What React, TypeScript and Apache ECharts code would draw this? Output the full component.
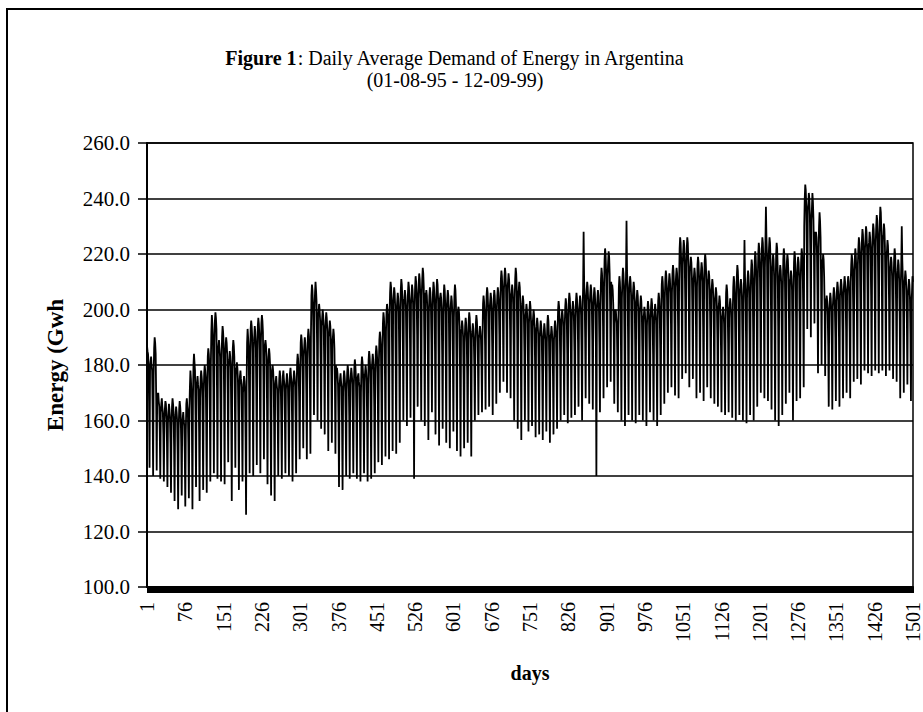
import React, { useEffect, useRef } from "react";
import * as echarts from "echarts";

// Daily average demand (GWh), days 1..1501
const demandPart1 = [
  187,185,184,181,167,143,179, 181,183,180,178,164,140,176, 186,190,188,184,168,142,170,
  168,170,167,165,156,139,163, 166,168,165,163,155,138,160, 164,167,166,162,153,136,159,
  163,166,164,161,152,134,158, 165,168,166,163,151,131,160, 162,165,163,160,148,128,157,
  164,167,165,162,152,133,159, 161,163,160,158,148,129,156, 166,168,165,163,152,132,164,
  172,178,175,170,156,128,168, 180,184,181,178,162,136,172, 174,176,173,171,156,131,168,
  175,178,176,173,159,135,170, 177,180,178,175,159,134,172, 183,186,184,180,164,138,180,
  192,198,195,190,172,141,188, 196,199,197,193,172,139,186, 187,189,186,183,166,138,182,
  190,194,192,188,168,137,184, 187,190,188,184,170,145,180, 182,185,183,179,161,131,178,
  186,189,187,183,168,143,179, 178,181,179,175,160,135,172, 176,178,175,173,160,138,170,
  173,176,174,170,154,126,172, 188,193,190,186,170,141,184, 193,196,194,190,171,140,186,
  190,194,192,188,172,144,185, 194,197,195,191,172,141,188, 195,198,196,192,175,146,186,
  186,189,187,183,166,137,180, 183,186,184,180,162,133,177, 177,180,178,174,158,131,172,
  174,176,173,171,160,140,169, 175,178,176,172,160,139,170, 176,178,175,173,161,141,171,
  174,177,175,172,160,140,170, 177,179,176,174,161,138,172, 175,178,176,173,161,141,171,
  181,184,182,178,167,146,177,
];
const demandPart2 = [
  188,191,189,185,173,150,183, 187,190,188,184,170,146,182, 190,193,191,187,173,148,190,
  205,209,207,202,188,162,200, 206,210,207,203,188,160,198, 199,202,200,196,182,157,194,
  197,200,198,194,180,155,192, 196,199,197,193,177,149,190, 193,196,194,190,176,152,188,
  190,193,191,186,173,148,180, 176,179,177,173,160,136,172, 175,177,174,172,158,135,170,
  175,178,176,173,161,140,171, 177,180,178,174,162,139,173, 176,179,177,174,162,141,172,
  179,182,180,176,163,139,175, 175,177,174,172,159,138,170, 180,183,181,177,164,141,176,
  177,180,178,174,161,138,173, 182,185,183,179,164,139,178, 181,184,182,178,165,141,177,
  184,187,185,181,168,145,180, 189,192,190,186,170,144,186, 195,199,197,192,176,147,192,
  199,202,200,196,177,146,198, 206,210,208,203,183,149,202, 205,208,206,201,181,148,200,
  203,206,204,199,182,152,200, 207,211,209,204,188,160,203, 204,207,205,200,185,158,200,
  206,210,208,203,188,161,202, 205,209,207,202,186,139,200, 208,212,210,205,191,165,204,
  209,213,211,206,189,160,205, 211,215,213,208,189,158,206, 204,207,205,200,183,153,199,
  205,208,206,201,188,163,200, 206,210,208,203,185,155,202, 207,211,209,204,184,151,203,
  203,206,204,199,184,157,198, 205,209,207,202,183,152,200, 204,207,205,200,181,150,199,
  202,205,203,198,183,156,197,
];
const demandPart3 = [
  205,209,207,202,182,149,198, 198,201,199,194,177,147,192, 193,196,194,190,175,150,188,
  194,197,195,191,177,152,189, 196,199,197,192,176,147,190, 192,195,193,189,179,160,188,
  195,198,196,192,182,162,190, 191,194,192,189,180,163,190, 202,205,203,198,187,164,198,
  205,208,206,201,189,165,200, 203,206,204,199,186,162,199, 204,207,205,200,189,166,200,
  205,208,206,202,191,170,203, 211,214,212,207,196,174,207, 212,215,213,208,195,170,208,
  210,213,211,206,193,168,205, 206,209,207,202,187,160,204, 211,215,213,208,189,157,206,
  207,210,208,203,184,153,200, 202,205,203,198,185,160,197, 199,202,200,195,181,156,195,
  200,203,201,196,183,158,194, 197,200,198,193,179,154,192, 194,197,195,191,178,155,190,
  193,196,194,190,177,153,189, 192,195,193,189,177,156,188, 195,198,196,191,177,152,190,
  191,194,192,188,176,155,189, 193,196,194,190,178,157,192, 200,203,201,196,184,160,196,
  197,200,198,194,183,162,194, 201,204,202,197,184,159,197, 203,206,204,199,186,161,198,
  200,203,201,196,185,162,197, 203,206,204,199,188,165,199, 202,205,203,198,185,160,200,
  208,228,210,205,190,168,203, 207,210,208,203,190,166,202, 206,209,207,202,189,164,201,
  205,208,206,201,188,140,200, 204,207,205,200,187,163,201, 211,215,213,208,194,168,208,
  218,222,220,214,200,172,212,
];
const demandPart4 = [
  217,221,219,213,200,174,210, 206,209,207,202,190,166,200, 198,200,197,195,183,163,194,
  208,212,210,205,189,160,204, 211,215,213,208,189,158,206, 212,232,214,209,190,162,206,
  209,212,210,205,189,160,203, 207,210,208,203,187,159,201, 204,207,205,200,187,162,199,
  202,205,203,198,185,160,197, 198,201,199,195,182,158,194, 200,203,201,197,185,163,196,
  201,204,202,197,184,160,196, 199,202,200,195,182,158,196, 203,206,204,199,186,162,200,
  209,212,210,205,191,166,204, 211,214,212,207,194,170,206, 210,213,211,206,195,172,206,
  213,216,214,209,195,169,208, 212,215,213,208,194,168,210, 222,226,224,218,203,175,216,
  221,225,223,217,203,177,215, 222,226,224,218,202,172,214, 216,219,217,212,199,175,210,
  212,215,213,208,194,168,208, 216,219,217,212,197,170,210, 214,217,215,210,194,167,209,
  217,220,218,213,198,172,210, 211,214,212,207,193,168,206, 208,211,209,204,191,166,203,
  205,208,206,201,189,165,200, 202,205,203,198,186,163,197, 198,201,199,195,183,162,196,
  206,209,207,202,188,163,200, 201,204,202,197,185,161,198, 208,212,210,205,189,160,203,
  212,216,214,209,192,162,206, 208,211,209,204,188,160,202, 210,225,212,207,190,159,204,
  211,214,212,207,191,162,205, 214,218,216,210,192,160,208, 217,221,219,213,196,165,210,
  220,224,222,216,200,170,214,
];
const demandPart5 = [
  222,226,224,218,200,168,215, 224,237,226,220,201,167,216, 222,226,224,218,198,164,214,
  216,220,218,212,193,160,208, 220,224,222,215,194,158,210, 213,216,214,209,192,162,206,
  218,222,220,214,197,166,211, 217,220,218,213,198,170,210, 211,214,212,207,190,160,206,
  217,221,219,213,197,167,211, 216,219,217,212,196,168,210, 218,222,220,215,200,172,230,
  240,245,243,237,222,193,236, 238,242,240,234,219,190,232, 236,242,239,233,221,195,228,
  224,228,226,220,205,177,222, 230,235,232,226,210,180,218, 216,220,218,212,200,176,204,
  202,205,203,198,187,165,200, 203,206,204,199,187,164,201, 205,208,206,201,190,167,203,
  207,210,208,203,190,165,205, 208,211,209,204,192,168,206, 209,212,210,205,193,170,207,
  209,212,210,205,192,168,210, 216,220,218,212,199,174,214, 218,222,220,214,201,175,216,
  222,226,224,218,202,173,220, 225,229,227,221,206,178,222, 226,230,228,222,206,177,223,
  224,228,226,220,205,176,222, 227,231,229,223,207,178,224, 230,234,232,225,208,177,226,
  232,237,235,228,210,178,226, 227,231,229,223,206,176,220, 221,225,223,217,204,178,214,
  216,219,217,212,199,175,210, 218,222,220,214,200,174,211, 214,218,216,210,196,168,208,
  216,230,218,212,197,170,209, 211,214,212,207,196,173,205, 208,211,209,204,191,167,203,
  206,212,210,
];

const xTickLabels = [
  "1","76","151","226","301","376","451","526","601","676","751",
  "826","901","976","1051","1126","1201","1276","1351","1426","1501",
];
const yMin = 100;
const yMax = 260;
const yStep = 20;

const titleBold = "Figure 1";
const titleRest = ": Daily Average Demand of Energy in Argentina";
const subtitle = "(01-08-95 - 12-09-99)";
const yName = "Energy (Gwh";
const xName = "days";

const FONT = "'Liberation Serif', 'Times New Roman', serif";

export default function App() {
  const ref = useRef<HTMLDivElement>(null);

  useEffect(() => {
    if (!ref.current) return;
    const chart = echarts.init(ref.current, undefined, { renderer: "svg" });
    const demand = [
      ...demandPart1, ...demandPart2, ...demandPart3, ...demandPart4, ...demandPart5,
    ];
    const days = demand.map((_, i) => String(i + 1));
    const tickSet = new Set(xTickLabels);

    chart.setOption({
      animation: false,
      backgroundColor: "#ffffff",
      textStyle: { fontFamily: FONT, color: "#000" },
      graphic: [
        {
          type: "rect",
          silent: true,
          z: -10,
          shape: { x: 7, y: 9, width: 1000, height: 1000 },
          style: { fill: "none", stroke: "#000", lineWidth: 2 },
        },
        {
          type: "text",
          x: 455,
          y: 58,
          style: {
            text: `{b|${titleBold}}{r|${titleRest}}`,
            align: "center",
            verticalAlign: "middle",
            fill: "#000",
            rich: {
              b: { fontFamily: FONT, fontSize: 20, fontWeight: "bold", fill: "#000" },
              r: { fontFamily: FONT, fontSize: 20, fill: "#000" },
            },
          },
        },
        {
          type: "text",
          x: 455,
          y: 80,
          style: {
            text: subtitle,
            align: "center",
            verticalAlign: "middle",
            fill: "#000",
            font: `20px ${FONT}`,
          },
        },
      ],
      grid: {
        left: 147,
        top: 143,
        right: 10,
        bottom: 125,
        show: true,
        borderColor: "#000",
        borderWidth: 1.5,
        backgroundColor: "transparent",
      },
      xAxis: {
        type: "category",
        data: days,
        boundaryGap: false,
        axisLine: { lineStyle: { color: "#000", width: 2 } },
        axisTick: {
          show: true,
          interval: 0,
          length: 6,
          lineStyle: { color: "#000", width: 1 },
        },
        axisLabel: {
          interval: (i: number) => tickSet.has(days[i]),
          rotate: 90,
          margin: 15,
          fontFamily: FONT,
          fontSize: 20,
          color: "#000",
        },
        splitLine: { show: false },
        name: xName,
        nameLocation: "middle",
        nameGap: 76,
        nameTextStyle: { fontFamily: FONT, fontSize: 20, fontWeight: "bold", color: "#000" },
      },
      yAxis: {
        type: "value",
        min: yMin,
        max: yMax,
        interval: yStep,
        axisLine: { show: true, lineStyle: { color: "#000", width: 2 } },
        axisTick: { show: true, length: 9, lineStyle: { color: "#000", width: 1.5 } },
        axisLabel: {
          formatter: (v: number) => v.toFixed(1),
          margin: 17,
          fontFamily: FONT,
          fontSize: 21,
          color: "#000",
        },
        splitLine: { show: true, lineStyle: { color: "#000", width: 1.5 } },
        name: yName,
        nameLocation: "middle",
        nameRotate: 90,
        nameGap: 80,
        nameTextStyle: { fontFamily: FONT, fontSize: 23, fontWeight: "bold", color: "#000" },
      },
      series: [
        {
          type: "line",
          data: demand,
          symbol: "none",
          showSymbol: false,
          lineStyle: { color: "#000", width: 1.8 },
          z: 3,
        },
      ],
    });

    return () => chart.dispose();
  }, []);

  return (
    <div
      ref={ref}
      style={{ position: "fixed", left: 0, top: 0, width: 923, height: 712, background: "#fff" }}
    />
  );
}
